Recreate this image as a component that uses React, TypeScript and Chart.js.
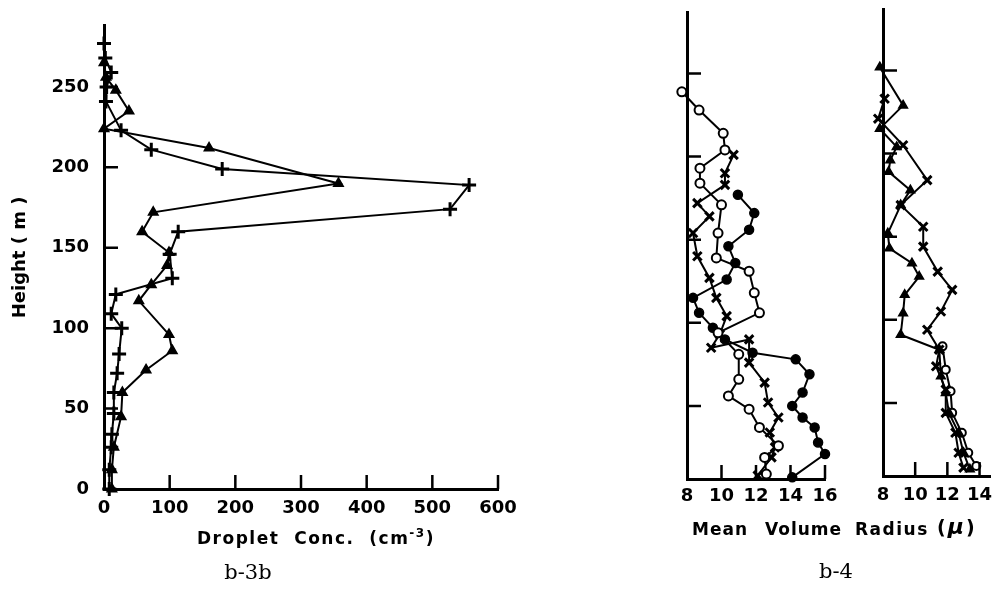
import React, { useEffect, useRef } from "react";
import { Chart, registerables } from "chart.js";

Chart.register(...registerables);

// ---- b-3b : droplet concentration (cm^-3) against height (m) ----
const triHeights = [265, 256, 248, 235, 224, 212, 190, 172, 160, 147, 139, 127, 117, 96, 86, 74, 60, 45, 26, 12, 0];
const triConc = [0, 3, 18, 38, 0, 160, 357, 75, 58, 99, 96, 72, 53, 99, 104, 64, 28, 26, 15, 12, 12];

const plusHeights = [277, 268, 259, 250, 241, 223, 211, 199, 189, 174, 160, 146, 131, 121, 109, 100, 84, 72, 60, 47, 34, 26, 12, 0];
const plusConc = [0, 2, 11, 4, 3, 26, 72, 180, 556, 527, 113, 100, 104, 18, 11, 27, 23, 20, 15, 15, 12, 11, 8, 8];

const concTicks = [100, 200, 300, 400, 500, 600];
const heightTicks = [50, 100, 150, 200, 250];

// ---- b-4 (left) : mean volume radius (micron) against height ----
const openHeightsA = [239, 228, 214, 204, 193, 184, 171, 154, 139, 131, 118, 106, 94, 81, 66, 56, 48, 37, 26, 19, 9];
const openRadiusA = [7.7, 8.7, 10.1, 10.2, 8.75, 8.75, 10.0, 9.8, 9.7, 11.6, 11.9, 12.2, 9.8, 11.0, 11.0, 10.4, 11.6, 12.2, 13.3, 12.5, 12.6];

const crossHeightsA = [201, 190, 183, 172, 164, 154, 140, 127, 115, 104, 93, 85, 90, 76, 64, 52, 43, 34, 25, 19, 8];
const crossRadiusA = [10.7, 10.2, 10.2, 8.6, 9.3, 8.35, 8.6, 9.3, 9.7, 10.3, 9.9, 9.4, 11.6, 11.6, 12.5, 12.7, 13.3, 12.8, 13.1, 12.9, 12.1];

const dotHeightsA = [177, 166, 156, 146, 136, 126, 115, 106, 97, 90, 82, 78, 69, 58, 50, 43, 37, 28, 21, 7];
const dotRadiusA = [10.95, 11.9, 11.6, 10.4, 10.8, 10.3, 8.35, 8.7, 9.5, 10.2, 11.8, 14.3, 15.1, 14.7, 14.1, 14.7, 15.4, 15.6, 16.0, 14.1];

// ---- b-4 (right) ----
const triHeightsB = [252, 229, 215, 204, 196, 189, 178, 169, 152, 143, 134, 126, 115, 104, 91, 82, 66, 56, 44, 32, 20, 10];
const triRadiusB = [7.8, 9.25, 7.8, 8.85, 8.45, 8.35, 9.7, 9.1, 8.3, 8.4, 9.8, 10.25, 9.35, 9.25, 9.1, 11.5, 11.6, 11.9, 12.1, 12.7, 13.0, 13.4];

const crossHeightsB = [233, 221, 205, 184, 169, 156, 144, 129, 118, 105, 94, 82, 72, 58, 44, 32, 20, 11];
const crossRadiusB = [8.1, 7.7, 9.25, 10.75, 9.1, 10.5, 10.5, 11.4, 12.3, 11.6, 10.75, 11.5, 11.3, 11.9, 11.9, 12.5, 12.7, 13.0];

const openHeightsB = [84, 70, 57, 44, 32, 20, 12];
const openRadiusB = [11.7, 11.9, 12.2, 12.3, 12.9, 13.3, 13.8];

const radiusTicksA = [10, 12, 14, 16];
const radiusTicksB = [10, 12, 14];

const FONT = '"DejaVu Sans", "Liberation Sans", sans-serif';
const tickFont = { family: FONT, size: 18, weight: "bold" as const };

function toPoints(xs: number[], ys: number[]) {
  return ys.map((y, i) => ({ x: xs[i], y }));
}

// Tick marks drawn on the inside of the two axes.
const inwardTicks = {
  id: "inwardTicks",
  afterDraw(chart: any, _args: any, opts: any) {
    const { ctx, chartArea, scales } = chart;
    const len = 14;
    ctx.save();
    ctx.strokeStyle = "#000";
    ctx.lineWidth = 2.5;
    ctx.beginPath();
    (opts.x || []).forEach((v: number) => {
      const px = scales.x.getPixelForValue(v);
      ctx.moveTo(px, chartArea.bottom);
      ctx.lineTo(px, chartArea.bottom - len);
    });
    (opts.y || []).forEach((v: number) => {
      const py = scales.y.getPixelForValue(v);
      ctx.moveTo(chartArea.left, py);
      ctx.lineTo(chartArea.left + len, py);
    });
    ctx.stroke();
    ctx.restore();
  },
};

function series(data: any[], pointStyle: string, radius: number, fill: string, pbw = 1.5) {
  return {
    data,
    showLine: true,
    tension: 0,
    borderColor: "#000",
    borderWidth: 2,
    pointStyle,
    pointRadius: radius,
    pointBackgroundColor: fill,
    pointBorderColor: "#000",
    pointBorderWidth: pbw,
    clip: false as any,
  };
}

interface PanelSpec {
  datasets: any[];
  xMin: number;
  xMax: number;
  xStep: number;
  yMin: number;
  yMax: number;
  yLabels: boolean;
  yWidth: number;
  xHeight: number;
  padTop: number;
  padRight: number;
  xTicks: number[];
  yTicks: number[];
  yTitle?: string;
  xPad: number;
}

function buildConfig(p: PanelSpec): any {
  return {
    type: "scatter",
    data: { datasets: p.datasets },
    plugins: [inwardTicks],
    options: {
      animation: false,
      responsive: false,
      maintainAspectRatio: false,
      events: [],
      layout: { padding: { top: p.padTop, right: p.padRight, left: 0, bottom: 0 } },
      plugins: {
        legend: { display: false },
        tooltip: { enabled: false },
        inwardTicks: { x: p.xTicks, y: p.yTicks },
      },
      scales: {
        x: {
          type: "linear",
          min: p.xMin,
          max: p.xMax,
          grid: { display: false, drawTicks: false },
          border: { display: true, width: 3, color: "#000" },
          ticks: { stepSize: p.xStep, includeBounds: false, color: "#000", font: tickFont, padding: p.xPad, maxRotation: 0 },
          afterFit: (s: any) => {
            s.height = p.xHeight;
          },
        },
        y: {
          type: "linear",
          min: p.yMin,
          max: p.yMax,
          grid: { display: false, drawTicks: false },
          border: { display: true, width: 3, color: "#000" },
          ticks: { display: p.yLabels, stepSize: 50, includeBounds: false, color: "#000", font: tickFont, padding: 15 },
          title: p.yTitle
            ? { display: true, text: p.yTitle, color: "#000", font: { family: FONT, size: 18, weight: "bold" }, padding: { top: 10, bottom: 0 } }
            : { display: false },
          afterFit: (s: any) => {
            s.width = p.yWidth;
          },
        },
      },
    },
  };
}

export default function App() {
  const leftRef = useRef<HTMLCanvasElement>(null);
  const midRef = useRef<HTMLCanvasElement>(null);
  const rightRef = useRef<HTMLCanvasElement>(null);

  useEffect(() => {
    const charts: Chart[] = [];

    charts.push(
      new Chart(
        leftRef.current!,
        buildConfig({
          datasets: [
            series(toPoints(triConc, triHeights), "triangle", 5.5, "#000", 1.5),
            series(toPoints(plusConc, plusHeights), "cross", 7, "#000", 3),
          ],
          xMin: 0,
          xMax: 600,
          xStep: 100,
          yMin: 0,
          yMax: 288,
          yLabels: true,
          yWidth: 104,
          xHeight: 105,
          padTop: 20,
          padRight: 42,
          xTicks: concTicks,
          yTicks: heightTicks,
          yTitle: "Height ( m )",
          xPad: 9,
        })
      )
    );

    charts.push(
      new Chart(
        midRef.current!,
        buildConfig({
          datasets: [
            series(toPoints(openRadiusA, openHeightsA), "circle", 4.5, "#fff", 2),
            series(toPoints(crossRadiusA, crossHeightsA), "crossRot", 6, "#000", 3),
            series(toPoints(dotRadiusA, dotHeightsA), "circle", 4.5, "#000", 1.5),
          ],
          xMin: 8,
          xMax: 16,
          xStep: 2,
          yMin: 6,
          yMax: 287,
          yLabels: false,
          yWidth: 47,
          xHeight: 115,
          padTop: 12,
          padRight: 25,
          xTicks: radiusTicksA,
          yTicks: heightTicks,
          xPad: 7,
        })
      )
    );

    charts.push(
      new Chart(
        rightRef.current!,
        buildConfig({
          datasets: [
            series(toPoints(triRadiusB, triHeightsB), "triangle", 5, "#000", 1.5),
            series(toPoints(crossRadiusB, crossHeightsB), "crossRot", 6, "#000", 3),
            series(toPoints(openRadiusB, openHeightsB), "circle", 4, "#fff", 2),
          ],
          xMin: 8,
          xMax: 14.7,
          xStep: 2,
          yMin: 6,
          yMax: 287,
          yLabels: false,
          yWidth: 40,
          xHeight: 118,
          padTop: 9,
          padRight: 0,
          xTicks: radiusTicksB,
          yTicks: heightTicks,
          xPad: 9,
        })
      )
    );

    return () => charts.forEach((c) => c.destroy());
  }, []);

  const label: React.CSSProperties = {
    position: "absolute",
    fontFamily: FONT,
    fontWeight: "bold",
    fontSize: 17,
    color: "#000",
    whiteSpace: "nowrap",
    letterSpacing: 1.5,
    lineHeight: "22px",
  };
  const caption: React.CSSProperties = {
    position: "absolute",
    fontFamily: '"DejaVu Serif", "Liberation Serif", serif',
    fontSize: 21,
    color: "#000",
    whiteSpace: "nowrap",
    transform: "translateX(-50%)",
  };

  return (
    <div
      style={{
        position: "fixed",
        left: 0,
        top: 0,
        width: 1002,
        height: 594,
        background: "#fff",
        overflow: "hidden",
      }}
    >
      <canvas ref={leftRef} width={540} height={594} style={{ position: "absolute", left: 0, top: 0, width: 540, height: 594 }} />
      <canvas ref={midRef} width={210} height={594} style={{ position: "absolute", left: 640, top: 0, width: 210, height: 594 }} />
      <canvas ref={rightRef} width={159} height={594} style={{ position: "absolute", left: 843, top: 0, width: 159, height: 594 }} />

      <div style={{ ...label, left: 316, top: 527, transform: "translateX(-50%)" }}>
        Droplet&nbsp; Conc.&nbsp; (cm<sup style={{ fontSize: 12, lineHeight: 0 }}>-3</sup>)
      </div>

      <div style={{ ...label, left: 692, top: 518, letterSpacing: 1 }}>Mean</div>
      <div style={{ ...label, left: 765, top: 518, letterSpacing: 1 }}>Volume</div>
      <div style={{ ...label, left: 855, top: 518, letterSpacing: 1.5 }}>Radius</div>
      <div style={{ ...label, left: 937, top: 516, letterSpacing: 2, fontSize: 19 }}>
        (<i style={{ fontSize: 22 }}>μ</i>)
      </div>

      <div style={{ ...caption, left: 248, top: 560 }}>b-3b</div>
      <div style={{ ...caption, left: 836, top: 559 }}>b-4</div>
    </div>
  );
}
